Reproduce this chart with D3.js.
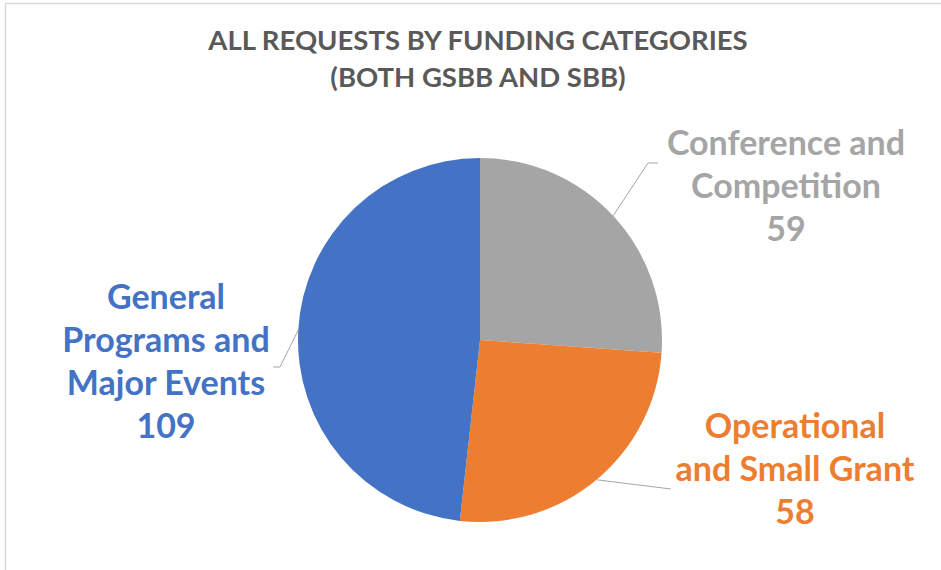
<!DOCTYPE html>
<html>
<head>
<meta charset="utf-8">
<script src="https://cdn.jsdelivr.net/npm/d3@7"></script>
<style>
  html, body { margin: 0; padding: 0; background: #fff; }
  svg { display: block; }
  text { font-family: Lato, "Open Sans", sans-serif; font-weight: bold; }
</style>
</head>
<body>
<div id="chart"></div>
<script>
"use strict";

// chart data
var categories = ["Conference and Competition", "Operational and Small Grant", "General Programs and Major Events"];
var values = [59, 58, 109];
var colors = ["#A5A5A5", "#ED7D31", "#4472C4"];
var labelLines = [
    ["Conference and", "Competition"],
    ["Operational", "and Small Grant"],
    ["General", "Programs and", "Major Events"]
];
var titleLines = ["ALL REQUESTS BY FUNDING CATEGORIES", "(BOTH GSBB AND SBB)"];

var width = 941,
    height = 570,
    cx = 480,
    cy = 340,
    radius = 182,
    lineH = 43;

// label placement (text centre x, first baseline y) and leader elbow / end
var labelLayout = [
    { x: 786, y: 155, elbow: [648, 163], end: [658, 163] },
    { x: 795, y: 438, elbow: [663, 488], end: [671, 489] },
    { x: 166, y: 309, elbow: [280, 367], end: [273, 367] }
];

var svg = d3.select("#chart").append("svg")
    .attr("width", width)
    .attr("height", height);

// faint chart-area border
svg.append("rect")
    .attr("x", 5.5)
    .attr("y", 3.5)
    .attr("width", 1200)
    .attr("height", 1200)
    .attr("fill", "none")
    .attr("stroke", "#d9d9d9")
    .attr("stroke-width", 1.5);

/**
 * Title, two centred lines
 */
svg.append("g")
    .selectAll("text")
    .data(titleLines)
    .join("text")
    .attr("x", 478)
    .attr("y", function (d, i) { return 50 + i * 37; })
    .attr("text-anchor", "middle")
    .attr("fill", "#595959")
    .attr("font-size", 27.5)
    .text(function (d) { return d; });

var data = categories.map(function (c, i) {
    return { name: c, value: values[i], color: colors[i], lines: labelLines[i].concat([String(values[i])]), layout: labelLayout[i] };
});

var pie = d3.pie()
    .sort(null)
    .value(function (d) { return d.value; });

var arc = d3.arc()
    .innerRadius(0)
    .outerRadius(radius);

var edge = d3.arc()
    .innerRadius(radius)
    .outerRadius(radius);

var arcs = pie(data);

var g = svg.append("g")
    .attr("transform", "translate(" + cx + "," + cy + ")");

g.selectAll("path.slice")
    .data(arcs)
    .join("path")
    .attr("class", "slice")
    .attr("d", arc)
    .attr("fill", function (d) { return d.data.color; });

// leader lines from slice edge midpoint
svg.append("g")
    .selectAll("polyline")
    .data(arcs)
    .join("polyline")
    .attr("fill", "none")
    .attr("stroke", "#a6a6a6")
    .attr("stroke-width", 1)
    .attr("points", function (d) {
        var c = edge.centroid(d);
        var l = d.data.layout;
        return [[cx + c[0], cy + c[1]], l.elbow, l.end].map(function (p) { return p.join(","); }).join(" ");
    });

// data labels
var labels = svg.append("g")
    .selectAll("text")
    .data(arcs)
    .join("text")
    .attr("text-anchor", "middle")
    .attr("font-size", 34)
    .attr("fill", function (d) { return d.data.color; });

labels.selectAll("tspan")
    .data(function (d) {
        return d.data.lines.map(function (t, i) { return { t: t, i: i, l: d.data.layout }; });
    })
    .join("tspan")
    .attr("x", function (d) { return d.l.x; })
    .attr("y", function (d) { return d.l.y + d.i * lineH; })
    .text(function (d) { return d.t; });
</script>
</body>
</html>
